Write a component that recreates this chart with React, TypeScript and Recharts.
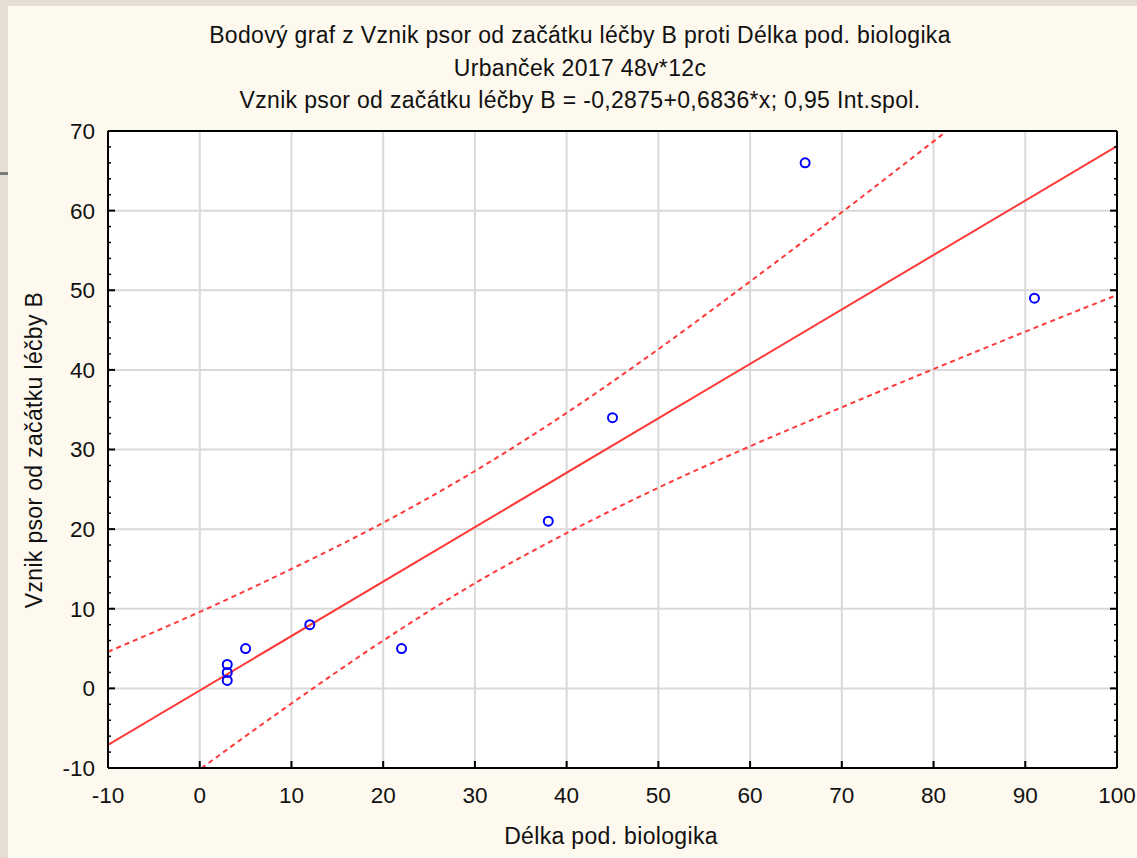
import { ComposedChart, XAxis, YAxis, CartesianGrid, Line, Scatter } from 'recharts';

// observed points (Délka pod. biologika, Vznik psor od začátku léčby B)
const pointX = [3, 3, 3, 5, 12, 22, 38, 45, 66, 91];
const pointY = [1, 2, 3, 5, 8, 5, 21, 34, 66, 49];

// regression line end points
const fitX = [-10, 100];
const fitY = [-7.1, 68.1];

// 0.95 confidence band, read along the x axis
const bandX = [-10, 0, 10, 20, 30, 40, 50, 60, 70, 80, 90, 100];
const bandUpper = [4.6, 9.6, 15.0, 20.8, 27.3, 34.6, 42.6, 51.1, 59.8, 68.7, 77.7, 86.7];
const bandLower = [-18.9, -10.2, -1.9, 6.0, 13.2, 19.5, 25.2, 30.4, 35.3, 40.1, 44.8, 49.4];

const xMajorTicks = [-10, 0, 10, 20, 30, 40, 50, 60, 70, 80, 90, 100];
const yMajorTicks = [-10, 0, 10, 20, 30, 40, 50, 60, 70];
const xMinorTicks = [
  -8, -6, -4, -2, 2, 4, 6, 8, 12, 14, 16, 18, 22, 24, 26, 28, 32, 34, 36, 38, 42, 44, 46, 48,
  52, 54, 56, 58, 62, 64, 66, 68, 72, 74, 76, 78, 82, 84, 86, 88, 92, 94, 96, 98,
];
const yMinorTicks = [
  -8, -6, -4, -2, 2, 4, 6, 8, 12, 14, 16, 18, 22, 24, 26, 28, 32, 34, 36, 38, 42, 44, 46, 48,
  52, 54, 56, 58, 62, 64, 66, 68,
];

const titleLines = [
  'Bodový graf z Vznik psor od začátku léčby B proti Délka pod. biologika',
  'Urbanček 2017 48v*12c',
  'Vznik psor od začátku léčby B = -0,2875+0,6836*x; 0,95 Int.spol.',
];
const xTitle = 'Délka pod. biologika';
const yTitle = 'Vznik psor od začátku léčby B';

const points = pointX.map((x, i) => ({ x, y: pointY[i] }));
const fitRows = fitX.map((x, i) => ({ x, fit: fitY[i] }));
const bandRows = bandX.map((x, i) => ({ x, upper: bandUpper[i], lower: bandLower[i] }));

const FONT = '"Liberation Sans", Arial, sans-serif';
const RED = '#ff3838';
const W = 1137;
const H = 858;
const MARGIN = { top: 129, right: 18, bottom: 88, left: 106 };
const tickText = { fontSize: 22.5, fill: '#111', fontFamily: FONT };
// tick={false} would also drop the tick marks, so tick-only axes get an invisible label
const hiddenText = { fontSize: 1, fill: 'none' };

const textStyle = {
  fontSize: 23,
  letterSpacing: '0.33px',
  color: '#111',
  whiteSpace: 'nowrap' as const,
};

function Ring(props: any) {
  const { cx, cy } = props;
  if (cx == null || cy == null) return null;
  return <circle cx={cx} cy={cy} r={4.5} fill="none" stroke="#0000ff" strokeWidth={2} />;
}

// the same axis set is used by the grid layer and the main layer so both share one plot area
function axes(visible: boolean) {
  const frame = visible ? { stroke: '#000', strokeWidth: 2 } : false;
  const minor = visible ? { stroke: '#000', strokeWidth: 1.5 } : false;
  const label = visible ? tickText : hiddenText;
  const common = { type: 'number' as const, interval: 0 as const, allowDataOverflow: true };
  return [
    <XAxis
      key="x"
      xAxisId="x"
      dataKey="x"
      {...common}
      domain={[-10, 100]}
      ticks={xMajorTicks}
      height={1}
      tickSize={-7}
      tickMargin={26}
      tick={label}
      axisLine={frame}
      tickLine={frame}
    />,
    <XAxis
      key="xm"
      xAxisId="xMinor"
      {...common}
      domain={[-10, 100]}
      ticks={xMinorTicks}
      height={1}
      tickSize={-4}
      tick={hiddenText}
      axisLine={false}
      tickLine={minor}
    />,
    <XAxis
      key="xt"
      xAxisId="xTop"
      orientation="top"
      {...common}
      domain={[-10, 100]}
      ticks={xMajorTicks}
      height={1}
      tickSize={-7}
      tick={hiddenText}
      axisLine={frame}
      tickLine={frame}
    />,
    <XAxis
      key="xtm"
      xAxisId="xTopMinor"
      orientation="top"
      {...common}
      domain={[-10, 100]}
      ticks={xMinorTicks}
      height={1}
      tickSize={-4}
      tick={hiddenText}
      axisLine={false}
      tickLine={minor}
    />,
    <YAxis
      key="y"
      yAxisId="y"
      {...common}
      domain={[-10, 70]}
      ticks={yMajorTicks}
      width={1}
      tickSize={-7}
      tickMargin={20}
      tick={label}
      axisLine={frame}
      tickLine={frame}
    />,
    <YAxis
      key="ym"
      yAxisId="yMinor"
      {...common}
      domain={[-10, 70]}
      ticks={yMinorTicks}
      width={1}
      tickSize={-4}
      tick={hiddenText}
      axisLine={false}
      tickLine={minor}
    />,
    <YAxis
      key="yr"
      yAxisId="yRight"
      orientation="right"
      {...common}
      domain={[-10, 70]}
      ticks={yMajorTicks}
      width={1}
      tickSize={-7}
      tick={hiddenText}
      axisLine={frame}
      tickLine={frame}
    />,
    <YAxis
      key="yrm"
      yAxisId="yRightMinor"
      orientation="right"
      {...common}
      domain={[-10, 70]}
      ticks={yMinorTicks}
      width={1}
      tickSize={-4}
      tick={hiddenText}
      axisLine={false}
      tickLine={minor}
    />,
  ];
}

export default function App() {
  return (
    <div
      style={{
        position: 'fixed',
        left: 0,
        top: 0,
        width: W,
        height: H,
        overflow: 'hidden',
        background: '#e6ded3',
        fontFamily: FONT,
      }}
    >
      <div style={{ position: 'absolute', left: 0, top: 172, width: 8, height: 3, background: '#7a7a7a' }} />
      <div
        style={{ position: 'absolute', left: 8, top: 6, width: 1129, height: 852, background: '#fef9ee' }}
      />
      {/* white plot background */}
      <div
        style={{
          position: 'absolute',
          left: MARGIN.left + 2,
          top: MARGIN.top + 2,
          width: W - MARGIN.left - MARGIN.right - 4,
          height: H - MARGIN.top - MARGIN.bottom - 4,
          background: '#ffffff',
        }}
      />

      {titleLines.map((t, i) => (
        <div
          key={i}
          style={{
            ...textStyle,
            position: 'absolute',
            left: 23,
            width: 1114,
            top: [23, 56, 88][i],
            textAlign: 'center',
            lineHeight: '24px',
          }}
        >
          {t}
        </div>
      ))}

      <div
        style={{
          ...textStyle,
          position: 'absolute',
          left: 611,
          top: 836,
          transform: 'translate(-50%, -50%)',
        }}
      >
        {xTitle}
      </div>
      <div
        style={{
          ...textStyle,
          position: 'absolute',
          left: 34,
          top: 450,
          transform: 'translate(-50%, -50%) rotate(-90deg)',
        }}
      >
        {yTitle}
      </div>

      {/* grid layer */}
      <div style={{ position: 'absolute', left: 0, top: 0 }}>
        <ComposedChart width={W} height={H} margin={MARGIN}>
          {axes(false)}
          <CartesianGrid xAxisId="x" yAxisId="y" stroke="#d9d9d9" strokeWidth={2} />
        </ComposedChart>
      </div>

      {/* main layer */}
      <div style={{ position: 'absolute', left: 0, top: 0 }}>
        <ComposedChart width={W} height={H} margin={MARGIN} style={{ fontFamily: FONT }}>
          {axes(true)}
          <Line
            xAxisId="x"
            yAxisId="y"
            data={bandRows}
            dataKey="upper"
            type="monotone"
            stroke={RED}
            strokeWidth={2}
            strokeDasharray="5 4"
            dot={false}
            activeDot={false}
            isAnimationActive={false}
          />
          <Line
            xAxisId="x"
            yAxisId="y"
            data={bandRows}
            dataKey="lower"
            type="monotone"
            stroke={RED}
            strokeWidth={2}
            strokeDasharray="5 4"
            dot={false}
            activeDot={false}
            isAnimationActive={false}
          />
          <Line
            xAxisId="x"
            yAxisId="y"
            data={fitRows}
            dataKey="fit"
            type="linear"
            stroke={RED}
            strokeWidth={2}
            dot={false}
            activeDot={false}
            isAnimationActive={false}
          />
          <Scatter
            xAxisId="x"
            yAxisId="y"
            data={points}
            dataKey="y"
            shape={<Ring />}
            isAnimationActive={false}
          />
        </ComposedChart>
      </div>
    </div>
  );
}
